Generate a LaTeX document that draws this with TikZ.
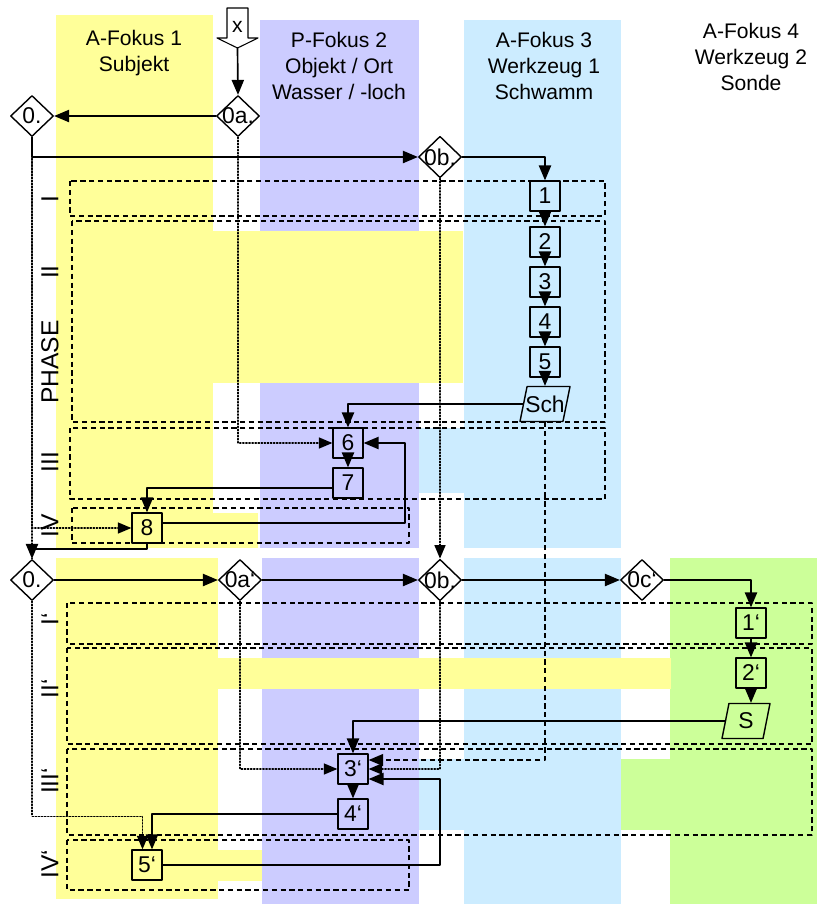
\documentclass[tikz,border=0pt]{standalone}
\usepackage{fontspec}
\setmainfont{Liberation Sans}
\usetikzlibrary{arrows,shapes.geometric}

\definecolor{gelb}{HTML}{FFFF99}
\definecolor{lila}{HTML}{CCCCFF}
\definecolor{hellblau}{HTML}{CCECFF}
\definecolor{gruen}{HTML}{CCFF99}

\begin{document}
\begin{tikzpicture}[line cap=round,line join=round,>=triangle 45,x=0.02cm,y=-0.02cm,
	font=\fontsize{12}{14.8}\selectfont,
	kasten/.style={draw,line width=0.8pt,minimum size=0.6cm,inner sep=0pt,font=\fontsize{13}{15}\selectfont},
	raute/.style={draw,diamond,fill=white,line width=0.8pt,minimum width=0.86cm,minimum height=0.82cm,inner sep=-1pt,font=\fontsize{13}{15}\selectfont},
	schraeg/.style={draw,trapezium,trapezium left angle=76,trapezium right angle=104,trapezium stretches body,line width=0.8pt,minimum width=0.96cm,minimum height=0.7cm,inner xsep=-1pt,font=\fontsize{13}{15}\selectfont},
	rahmen/.style={draw,line cap=butt,dash pattern=on 3pt off 2pt,line width=0.7pt},
	fluss/.style={->,line width=0.95pt},
	punkt/.style={->,densely dotted,line width=0.75pt},
	strich/.style={->,line cap=butt,dash pattern=on 3pt off 2pt,line width=0.9pt},
	etikett/.style={rotate=90,font=\fontsize{14}{16}\selectfont}]
		\useasboundingbox (0,0) rectangle (817,904);
		% colonnes du haut
		\fill[gelb] (56,15) rectangle (213,548);
		\fill[lila] (260,20) rectangle (419,548);
		\fill[hellblau] (464,20) rectangle (621,548);
		\fill[gelb] (56,231) rectangle (463,383);
		\fill[hellblau] (419,428) rectangle (621,493);
		\fill[gelb] (213,513) rectangle (258,548);
		% colonnes du bas
		\fill[gelb] (56,558) rectangle (218,899);
		\fill[lila] (262,558) rectangle (419,904);
		\fill[hellblau] (464,558) rectangle (621,904);
		\fill[gruen] (670,558) rectangle (817,904);
		\fill[gelb] (56,658) rectangle (671,689);
		\fill[hellblau] (419,759) rectangle (464,830);
		\fill[gruen] (621,759) rectangle (670,830);
		\fill[gelb] (218,850) rectangle (262,881);
		% cadres des phases
		\draw[rahmen] (70,181) rectangle (605,216);
		\draw[rahmen] (72,221) rectangle (605,422);
		\draw[rahmen] (70,428) rectangle (605,499);
		\draw[rahmen] (72,508) rectangle (409,543);
		\draw[rahmen] (67,603) rectangle (812,644);
		\draw[rahmen] (67,648) rectangle (812,744);
		\draw[rahmen] (67,749) rectangle (812,835);
		\draw[rahmen] (67,840) rectangle (409,890);
		% titres des colonnes
		\node[align=center] (kopf1) at (134,53) {A-Fokus 1\\Subjekt};
		\node[align=center] (kopf2) at (339,66) {P-Fokus 2\\Objekt / Ort\\Wasser / -loch};
		\node[align=center] (kopf3) at (544,66) {A-Fokus 3\\Werkzeug 1\\Schwamm};
		\node[align=center] (kopf4) at (751,57) {A-Fokus 4\\Werkzeug 2\\Sonde};
		% phases
		\node[etikett] (ph1) at (50,199) {I};
		\node[etikett] (ph2) at (50,272) {II};
		\node[etikett] (phase) at (50,362) {PHASE};
		\node[etikett] (ph3) at (50,462) {III};
		\node[etikett] (ph4) at (50,526) {IV};
		\node[etikett] (qh1) at (50,619) {I‘};
		\node[etikett] (qh2) at (50,689) {II‘};
		\node[etikett] (qh3) at (50,781) {III‘};
		\node[etikett] (qh4) at (50,864) {IV‘};
		% fleche d'entree
		\draw[fill=white,line width=0.6pt] (227,8) -- (248,8) -- (248,38) -- (258,38) -- (237.5,48) -- (217,38) -- (227,38) -- cycle;
		\node (x) at (237.5,27) {x};
		\coordinate (xspitze) at (237.5,48);
		% sommets du haut
		\node[raute] (n0) at (32,116) {0.};
		\node[raute] (n0a) at (238,116) {0a.};
		\node[raute] (n0b) at (440,157) {0b.};
		\node[kasten] (n1) at (545,196) {1};
		\node[kasten] (n2) at (545,242) {2};
		\node[kasten] (n3) at (545,282) {3};
		\node[kasten] (n4) at (545,322) {4};
		\node[kasten] (n5) at (545,362) {5};
		\node[schraeg] (nSch) at (545,404) {Sch};
		\node[kasten] (n6) at (348,443) {6};
		\node[kasten] (n7) at (348,483) {7};
		\node[kasten] (n8) at (147,528) {8};
		% sommets du bas
		\node[raute] (m0) at (32,580) {0.};
		\node[raute] (m0a) at (240,580) {0a‘};
		\node[raute] (m0b) at (440,580) {0b.};
		\node[raute] (m0c) at (642,580) {0c‘};
		\node[kasten] (m1) at (751,623) {1‘};
		\node[kasten] (m2) at (751,673) {2‘};
		\node[schraeg] (mS) at (746,721) {S};
		\node[kasten] (m3) at (353,769) {3‘};
		\node[kasten] (m4) at (353,814) {4‘};
		\node[kasten] (m5) at (147,865) {5‘};
		% pointilles
		\draw[densely dotted,line width=0.75pt] (n0.south) -- (m0.north);
		\draw[punkt] (n0.south) |- (n8.west);
		\draw[punkt] (n0a.south) |- (n6.west);
		\draw[punkt] (n0b.south) -- (m0b.north);
		\draw[punkt] (m0.south) -- ++(0,215) -| ([xshift=-0.09cm]m5.north);
		\draw[punkt] (m0a.south) |- (m3.west);
		\draw[punkt] (m0b.south) |- (m3.east);
		\draw[strich] (nSch.south) |- ([yshift=0.18cm]m3.east);
		% fleches du haut
		\draw[fluss] (xspitze) -- (n0a.north);
		\draw[fluss] (n0a.west) -- (n0.east);
		\draw[fluss] (n0.south) |- (n0b.west);
		\draw[fluss] (n0b.east) -| (n1.north);
		\draw[fluss] (n1) -- (n2);
		\draw[fluss] (n2) -- (n3);
		\draw[fluss] (n3) -- (n4);
		\draw[fluss] (n4) -- (n5);
		\draw[fluss] (n5.south) -- (n5.south |- nSch.north);
		\draw[fluss] (nSch.west) -| (n6.north);
		\draw[fluss] (n6) -- (n7);
		\draw[fluss] ([yshift=-0.1cm]n7.west) -| (n8.north);
		\draw[fluss] ([yshift=0.1cm]n8.east) -- ++(242,0) |- (n6.east);
		\draw[fluss] (n8.south) -- ++(0,5) -| (m0.north);
		% fleches du bas
		\draw[fluss] (m0) -- (m0a);
		\draw[fluss] (m0a) -- (m0b);
		\draw[fluss] (m0b) -- (m0c);
		\draw[fluss] (m0c.east) -| (m1.north);
		\draw[fluss] (m1) -- (m2);
		\draw[fluss] (m2.south) -- (m2.south |- mS.north);
		\draw[fluss] (mS.west) -| (m3.north);
		\draw[fluss] (m3) -- (m4);
		\draw[fluss] (m4.west) -| ([xshift=0.1cm]m5.north);
		\draw[fluss] (m5.east) -- ++(277,0) |- ([yshift=-0.2cm]m3.east);
\end{tikzpicture}
\end{document}
